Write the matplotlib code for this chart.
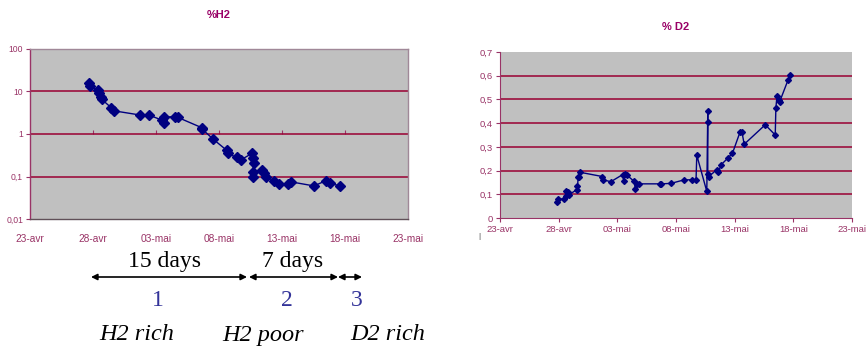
import pandas as pd
import matplotlib.pyplot as plt
import matplotlib.dates as mdates
from matplotlib.ticker import FixedLocator, FixedFormatter

# -------------------------------
# Data
# -------------------------------
h2_times = ["04-27 17:00", "04-27 18:00", "04-28 09:00", "04-28 11:30", "04-28 14:30",
            "04-28 17:00", "04-29 10:15", "04-29 16:30", "05-01 17:30", "05-02 10:30",
            "05-03 12:00", "05-03 15:00", "05-03 16:00", "05-04 12:15", "05-04 17:15",
            "05-06 15:00", "05-06 16:20", "05-07 13:15", "05-08 15:00", "05-08 17:00",
            "05-09 09:30", "05-09 17:15", "05-10 15:00", "05-10 16:00", "05-10 18:45",
            "05-10 16:00", "05-10 16:00", "05-11 10:30", "05-11 13:45", "05-11 17:30",
            "05-12 09:00", "05-12 18:15", "05-13 11:30", "05-13 16:30", "05-15 13:00",
            "05-16 11:45", "05-16 19:30", "05-17 14:30"]
h2_values = [16.0, 13.5, 10.8, 9.1, 7.3, 6.5, 4.2, 3.5, 2.8, 2.8,
             2.1, 1.8, 2.5, 2.56, 2.47, 1.41, 1.29, 0.75, 0.41, 0.35,
             0.28, 0.245, 0.35, 0.27, 0.21, 0.13, 0.099, 0.142, 0.119, 0.096,
             0.080, 0.065, 0.065, 0.075, 0.060, 0.080, 0.069, 0.060]

d2_times = ["04-27 21:00", "04-27 22:00", "04-28 11:15", "04-28 14:00", "04-28 16:00",
            "04-28 18:45", "04-28 21:15", "04-29 12:30", "04-29 14:30", "04-29 16:00",
            "04-29 18:00", "04-29 19:15", "05-01 17:00", "05-01 19:00", "05-02 10:45",
            "05-03 10:45", "05-03 13:30", "05-03 16:00", "05-03 19:00", "05-04 10:30",
            "05-04 12:45", "05-04 16:45", "05-04 19:30", "05-06 15:15", "05-06 18:00",
            "05-07 13:45", "05-08 17:00", "05-09 09:30", "05-09 17:00", "05-09 18:30",
            "05-10 15:00", "05-10 17:00", "05-10 17:00", "05-10 17:00", "05-10 19:00",
            "05-11 11:15", "05-11 14:30", "05-11 20:00", "05-12 11:15", "05-12 19:30",
            "05-13 11:15", "05-13 14:45", "05-13 19:30", "05-15 14:30", "05-16 11:00",
            "05-16 12:15", "05-16 14:30", "05-16 17:45", "05-16 20:00", "05-17 13:00",
            "05-17 16:15"]
d2_values = [0.066, 0.080, 0.080, 0.094, 0.112, 0.108, 0.098, 0.119, 0.133, 0.172,
             0.175, 0.193, 0.175, 0.161, 0.153, 0.183, 0.154, 0.185, 0.182, 0.154,
             0.122, 0.144, 0.144, 0.144, 0.144, 0.146, 0.161, 0.161, 0.161, 0.265,
             0.112, 0.452, 0.403, 0.186, 0.175, 0.203, 0.192, 0.224, 0.255, 0.273,
             0.364, 0.364, 0.311, 0.393, 0.350, 0.462, 0.514, 0.497, 0.490, 0.581,
             0.602]

tick_dates = ["04-23", "04-28", "05-03", "05-08", "05-13", "05-18", "05-23"]
tick_labels = ["23-avr", "28-avr", "03-mai", "08-mai", "13-mai", "18-mai", "23-mai"]

h2_yticks = [0.01, 0.1, 1, 10, 100]
h2_ylabels = ["0,01", "0,1", "1", "10", "100"]
d2_yticks = [0, 0.1, 0.2, 0.3, 0.4, 0.5, 0.6, 0.7]
d2_ylabels = ["0", "0,1", "0,2", "0,3", "0,4", "0,5", "0,6", "0,7"]

def to_dates(items):
    return pd.to_datetime(["2003-" + s for s in items])

h2_x = to_dates(h2_times)
d2_x = to_dates(d2_times)
ticks = mdates.date2num(to_dates(tick_dates))

# -------------------------------
# Styles
# -------------------------------
GREY = "#C0C0C0"
GRID = "#990033"
LABEL = "#993366"
NAVY = "#000080"
plt.rcParams["font.family"] = ["Liberation Sans", "DejaVu Sans"]

fig = plt.figure(figsize=(8.66, 3.53), dpi=100)

# -------------------------------
# Left chart : % H2 (log scale)
# -------------------------------
ax1 = fig.add_axes([30 / 866, 1 - 219 / 353, 378 / 866, 170 / 353])
ax1.set_facecolor(GREY)
ax1.plot(h2_x, h2_values, color=NAVY, lw=1, marker="D", ms=5.5, mfc=NAVY, mec=NAVY)
ax1.set_yscale("log")
ax1.set_ylim(0.01, 100)
ax1.set_xlim(ticks[0], ticks[-1])
ax1.yaxis.set_major_locator(FixedLocator(h2_yticks))
ax1.yaxis.set_major_formatter(FixedFormatter(h2_ylabels))
ax1.yaxis.set_minor_locator(FixedLocator([]))
for v in h2_yticks[1:-1]:
    ax1.axhline(v, color=GRID, lw=1.1, zorder=1)
ax1.set_xticks(ticks)
ax1.set_xticklabels(tick_labels)
ax1.tick_params(axis="x", length=0, pad=11, labelsize=7.3, labelcolor=LABEL)
ax1.tick_params(axis="y", length=3, color=LABEL, labelsize=6.2, labelcolor=LABEL, pad=2)
ax1.spines["left"].set_color(LABEL)
ax1.spines["top"].set_color("#A08898")
ax1.spines["right"].set_color("#A08898")
ax1.spines["bottom"].set_color("#605058")
for s in ax1.spines.values():
    s.set_linewidth(1)

# small ticks where the x axis crosses y = 1
sec = ax1.secondary_xaxis(0.5)
sec.set_xticks(ticks[1:-1])
sec.tick_params(axis="x", direction="out", length=3, color=LABEL, labelbottom=False, labeltop=False)
sec.spines["bottom"].set_visible(False)
sec.spines["top"].set_visible(False)

ax1.set_title("%H2", color="#990066", fontsize=8, fontweight="bold", pad=22)

# -------------------------------
# Right chart : % D2
# -------------------------------
ax2 = fig.add_axes([500 / 866, 1 - 218 / 353, 352 / 866, 166 / 353])
ax2.set_facecolor(GREY)
ax2.plot(d2_x, d2_values, color=NAVY, lw=1, marker="D", ms=3, mfc=NAVY, mec=NAVY)
ax2.set_ylim(0, 0.7)
ax2.set_xlim(ticks[0], ticks[-1])
ax2.set_yticks(d2_yticks)
ax2.set_yticklabels(d2_ylabels)
for v in d2_yticks[1:-1]:
    ax2.axhline(v, color=GRID, lw=1.1, zorder=1)
ax2.set_xticks(ticks)
ax2.set_xticklabels(tick_labels)
narrow = ["Liberation Sans Narrow", "Liberation Sans", "DejaVu Sans"]
ax2.tick_params(axis="both", length=3, color=LABEL, labelcolor=LABEL, labelsize=6.8, pad=2)
for lab in ax2.get_xticklabels() + ax2.get_yticklabels():
    lab.set_family(narrow)
ax2.spines["top"].set_visible(False)
ax2.spines["right"].set_visible(False)
ax2.spines["left"].set_color(LABEL)
ax2.spines["bottom"].set_color(LABEL)
ax2.set_title("% D2", color="#990066", fontsize=8, fontweight="bold", pad=16)
fig.text(479 / 866, 1 - 236 / 353, "|", color="#404040", fontsize=6, ha="center", va="center")

# -------------------------------
# Phase annotations under the left chart
# -------------------------------
def fx(px):
    return px / 866

def fy(py):
    return 1 - py / 353

serif = ["Liberation Serif", "DejaVu Serif"]
arrow = dict(arrowstyle="<|-|>", color="black", lw=1.2, mutation_scale=9, shrinkA=0, shrinkB=0)
for x0, x1 in [(91, 247), (249, 338), (338, 362)]:
    fig.add_artist(plt.Annotation("", xy=(fx(x1), fy(277)), xytext=(fx(x0), fy(277)),
                                  xycoords="figure fraction", textcoords="figure fraction",
                                  arrowprops=arrow))

fig.text(fx(164), fy(261), "15 days", family=serif, fontsize=17, ha="center", va="center")
fig.text(fx(293), fy(261), "7 days", family=serif, fontsize=17, ha="center", va="center")
for px, num in [(158, "1"), (287, "2"), (357, "3")]:
    fig.text(fx(px), fy(300), num, family=serif, fontsize=17, color="#333399", ha="center", va="center")
for px, txt in [(137, "H2 rich"), (263, "H2 poor"), (388, "D2 rich")]:
    fig.text(fx(px), fy(335), txt, family=serif, style="italic", fontsize=17.5, ha="center", va="center")

fig.savefig("out.png", dpi=100)
